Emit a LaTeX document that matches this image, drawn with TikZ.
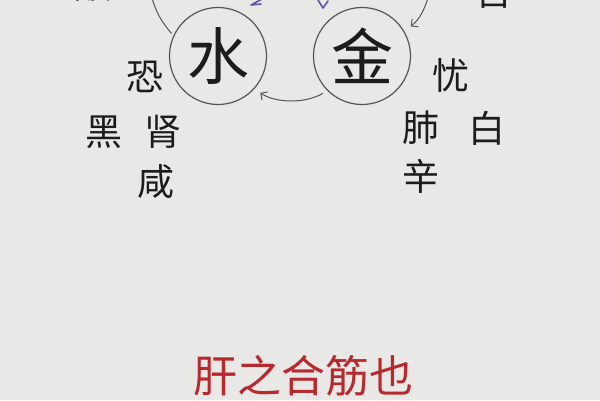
\documentclass[tikz,border=0pt]{standalone}
\usepackage{fontspec}
\usepackage{xcolor}
\usetikzlibrary{arrows.meta}
\newfontfamily\cjk{Noto Sans CJK SC}
\definecolor{papier}{HTML}{E8E8E6}
\definecolor{tinte}{HTML}{1C1C1C}
\definecolor{kreis}{HTML}{555555}
\definecolor{rot}{HTML}{B8282C}
\definecolor{kuli}{HTML}{5A55A8}

\begin{document}
\begin{tikzpicture}[x=1pt,y=-1pt,
    elem/.style={circle, draw=kreis, line width=1.2pt, minimum size=97pt, inner sep=0pt,
      text=tinte, font=\cjk\fontsize{62}{62}\selectfont},
    zi/.style={inner sep=0pt, text=tinte, font=\cjk\fontsize{37}{37}\selectfont},
    bogen/.style={draw=kreis, line width=1pt},
]

\clip (0,0) rectangle (600,400);
\fill[papier] (0,0) rectangle (600,400);

% Elemente
\node [elem] (shui) at (218,56){水};
\node [elem] (jin) at (362,56){金};

% Zuordnungen Wasser
\node [zi] (kong) at (145,77){恐};
\node [zi] (hei) at (104,132){黑};
\node [zi] (shen) at (163,132){肾};
\node [zi] (xian) at (156,182){咸};

% Zuordnungen Metall
\node [zi] (you) at (451,75){忧};
\node [zi] (fei) at (421,128){肺};
\node [zi] (bai) at (487,128){白};
\node [zi] (xin) at (421,176){辛};

% angeschnitten oben
\node [zi] (suan) at (93,-16){酸};
\node [zi] (ku) at (494,-9){苦};

% Pfeile
\coordinate (oben links) at (152,-2);
\coordinate (oben rechts) at (428,-2);
\draw[bogen] (oben links) .. controls (156,12) and (161,21) .. ([shift={(-4pt,-2pt)}]shui.150);
\draw[bogen,-{Straight Barb[length=5pt]},shorten >=8pt] (oben rechts) .. controls (424,10) and (420,19) .. (jin.30);
\draw[bogen,-{Straight Barb[length=5pt]},shorten <=5pt,shorten >=7pt] (jin.225) .. controls (305,104) and (275,103) .. (shui.318);

% blaue Kugelschreiberstriche
\draw[kuli, line width=1.6pt, line cap=round, line join=round] (262,-1) -- (251,5) -- (261,4);
\draw[kuli, line width=1.6pt, line cap=round, line join=round] (318,0) -- (323,8) -- (328,1);

\node [inner sep=0pt, text=rot, font=\cjk\fontsize{44}{44}\selectfont] (spruch) at (303,376){肝之合筋也};

\end{tikzpicture}
\end{document}
